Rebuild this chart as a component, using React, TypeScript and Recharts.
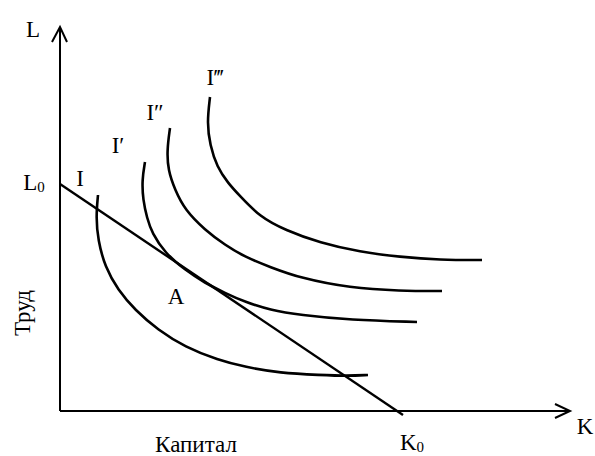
import React from 'react';
import { LineChart, Line, XAxis, YAxis, ReferenceDot } from 'recharts';

// isoquants (K = capital, L = labour)
const isoI = [
  { k: 38, l: 216 }, { k: 36, l: 194 }, { k: 38, l: 171 }, { k: 45, l: 144 },
  { k: 58, l: 121 }, { k: 75, l: 101 }, { k: 98, l: 81 }, { k: 125, l: 64 },
  { k: 158, l: 51 }, { k: 185, l: 44 }, { k: 220, l: 38 }, { k: 260, l: 36 },
  { k: 288, l: 35 }, { k: 308, l: 36 },
];
const isoI1 = [
  { k: 85, l: 249 }, { k: 82, l: 231 }, { k: 83, l: 211 }, { k: 87, l: 193 },
  { k: 92, l: 178 }, { k: 105, l: 158 }, { k: 125, l: 141 }, { k: 145, l: 128 },
  { k: 165, l: 118 }, { k: 185, l: 109 }, { k: 210, l: 101 }, { k: 240, l: 96 },
  { k: 290, l: 91 }, { k: 357, l: 89 },
];
const isoI2 = [
  { k: 110, l: 283 }, { k: 107, l: 261 }, { k: 108, l: 241 }, { k: 115, l: 221 },
  { k: 125, l: 201 }, { k: 145, l: 181 }, { k: 165, l: 166 }, { k: 185, l: 154 },
  { k: 210, l: 144 }, { k: 240, l: 133 }, { k: 290, l: 123 }, { k: 340, l: 120 },
  { k: 382, l: 120 },
];
const isoI3 = [
  { k: 150, l: 314 }, { k: 147, l: 288 }, { k: 150, l: 266 }, { k: 157, l: 244 },
  { k: 168, l: 228 }, { k: 179, l: 216 }, { k: 200, l: 194 }, { k: 225, l: 181 },
  { k: 260, l: 168 }, { k: 300, l: 159 }, { k: 340, l: 154 }, { k: 380, l: 151 },
  { k: 422, l: 151 },
];
// isocost line L0 -> K0
const isocost = [{ k: 0, l: 227 }, { k: 343, l: -4 }];

// axes with arrow heads
const axisK = [{ k: 0, l: 0 }, { k: 510, l: 0 }];
const arrowK = [{ k: 495, l: 7 }, { k: 510, l: 0 }, { k: 495, l: -7 }];
const axisL = [{ k: 0, l: 0 }, { k: 0, l: 384 }];
const arrowL = [{ k: -8, l: 369 }, { k: 0, l: 384 }, { k: 7, l: 369 }];

const labels = [
  { k: -27, l: 382, text: 'L' },
  { k: -26, l: 229, text: 'L', sub: '0' },
  { k: 20, l: 233, text: 'I' },
  { k: 58, l: 266, text: 'I′' },
  { k: 95, l: 299, text: 'I″' },
  { k: 155, l: 334, text: 'I‴' },
  { k: 116, l: 115, text: 'A' },
  { k: 136, l: -33, text: 'Капитал' },
  { k: 352, l: -31, text: 'K', sub: '0' },
  { k: 525, l: -15, text: 'K' },
];

const font = '"Liberation Serif", "Times New Roman", serif';

const TextMark = (props: any, text: string, sub?: string, rotate?: boolean) => {
  const { cx, cy } = props;
  return (
    <text
      x={cx}
      y={cy}
      textAnchor="middle"
      dominantBaseline="central"
      fontFamily={font}
      fontSize={23}
      fill="#000"
      transform={rotate ? `rotate(-90 ${cx} ${cy})` : undefined}
    >
      {text}
      {sub && (
        <tspan fontSize={15} dy={5}>
          {sub}
        </tspan>
      )}
    </text>
  );
};

export default function App() {
  const curve = (data: { k: number; l: number }[], key: string, w = 2.6) => (
    <Line
      key={key}
      data={data}
      dataKey="l"
      type="basis"
      stroke="#000"
      strokeWidth={w}
      dot={false}
      activeDot={false}
      isAnimationActive={false}
    />
  );
  const straight = (data: { k: number; l: number }[], key: string, w = 2) => (
    <Line
      key={key}
      data={data}
      dataKey="l"
      type="linear"
      stroke="#000"
      strokeWidth={w}
      dot={false}
      activeDot={false}
      isAnimationActive={false}
    />
  );

  return (
    <div style={{ position: 'absolute', left: 0, top: 0, background: '#fff' }}>
      <LineChart width={595} height={456} margin={{ top: 0, right: 0, bottom: 0, left: 0 }}>
        <XAxis type="number" dataKey="k" domain={[-60, 535]} hide />
        <YAxis type="number" dataKey="l" domain={[-45, 411]} hide />
        {straight(axisK, 'axisK', 2)}
        {straight(arrowK, 'arrowK', 2)}
        {straight(axisL, 'axisL', 2)}
        {straight(arrowL, 'arrowL', 2)}
        {straight(isocost, 'isocost', 2.4)}
        {curve(isoI, 'I')}
        {curve(isoI1, 'I1')}
        {curve(isoI2, 'I2')}
        {curve(isoI3, 'I3')}
        {labels.map((p, i) => (
          <ReferenceDot
            key={i}
            x={p.k}
            y={p.l}
            r={0}
            ifOverflow="visible"
            shape={(props: any) => TextMark(props, p.text, p.sub)}
          />
        ))}
        <ReferenceDot
          x={-38}
          y={98}
          r={0}
          ifOverflow="visible"
          shape={(props: any) => TextMark(props, 'Труд', undefined, true)}
        />
      </LineChart>
    </div>
  );
}
